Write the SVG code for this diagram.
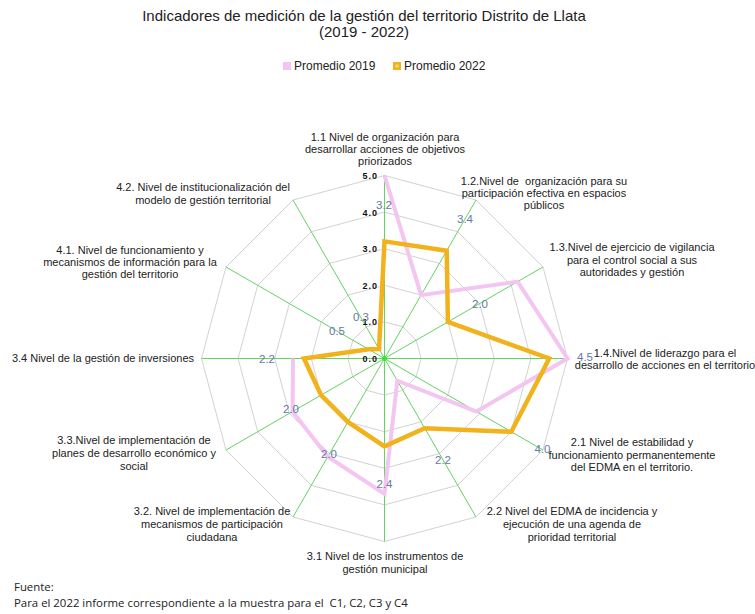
<svg xmlns="http://www.w3.org/2000/svg" width="755" height="614" viewBox="0 0 755 614">
<style>
text{font-family:"Liberation Sans",Arial,sans-serif;fill:#222}
.t{font-size:15px;text-anchor:middle}
.lg{font-size:12px}
.c{font-size:11px;text-anchor:middle;white-space:pre}
.tk{font-size:9px;font-weight:bold;text-anchor:end;letter-spacing:1px;fill:#111}
.v{font-size:11.5px;text-anchor:middle;fill:#6679a6}
.ring{fill:none;stroke:#d2d2d2;stroke-width:1}
.ax{stroke:#62d462;stroke-width:1}
.s19{fill:none;stroke:#f3c5f0;stroke-width:4;stroke-linejoin:miter}
.s22{fill:none;stroke:#f1b21b;stroke-width:4.5;stroke-linejoin:miter}
.ft{font-family:"Open Sans","Noto Sans",sans-serif;font-size:11.4px;white-space:pre}
</style>
<rect width="755" height="614" fill="#fff"/>
<g id="title">
<text class="t" x="364" y="20.5">Indicadores de medición de la gestión del territorio Distrito de Llata</text>
<text class="t" x="364" y="36.5">(2019 - 2022)</text>
</g>
<g id="legend">
<rect x="283" y="62" width="8" height="8" fill="#f3c5f0"/>
<text class="lg" x="294" y="70">Promedio 2019</text>
<rect x="393" y="62" width="8" height="8" fill="#f1b21b"/>
<rect x="395.5" y="64.5" width="3" height="3" fill="#f6d77a"/>
<text class="lg" x="404" y="70">Promedio 2022</text>
</g>
<g id="grid">
<polygon class="ring" points="384.5,321.9 402.8,326.8 416.2,340.2 421.1,358.5 416.2,376.8 402.8,390.2 384.5,395.1 366.2,390.2 352.8,376.8 347.9,358.5 352.8,340.2 366.2,326.8"/>
<polygon class="ring" points="384.5,285.3 421.1,295.11 447.89,321.9 457.7,358.5 447.89,395.1 421.1,421.89 384.5,431.7 347.9,421.89 321.11,395.1 311.3,358.5 321.11,321.9 347.9,295.11"/>
<polygon class="ring" points="384.5,248.7 439.4,263.41 479.59,303.6 494.3,358.5 479.59,413.4 439.4,453.59 384.5,468.3 329.6,453.59 289.41,413.4 274.7,358.5 289.41,303.6 329.6,263.41"/>
<polygon class="ring" points="384.5,212.1 457.7,231.72 511.28,285.3 530.9,358.5 511.28,431.7 457.7,485.28 384.5,504.9 311.3,485.28 257.72,431.7 238.1,358.5 257.72,285.3 311.3,231.72"/>
<polygon class="ring" points="384.5,175.5 476,200.02 542.98,267 567.5,358.5 542.98,450 476,516.98 384.5,541.5 293,516.98 226.02,450 201.5,358.5 226.02,267 293,200.02"/>
</g>
<g id="connectors">
<line class="ax" x1="384.5" y1="358.5" x2="384.5" y2="175.5"/>
<line class="ax" x1="384.5" y1="358.5" x2="476" y2="200.02"/>
<line class="ax" x1="384.5" y1="358.5" x2="542.98" y2="267"/>
<line class="ax" x1="384.5" y1="358.5" x2="567.5" y2="358.5"/>
<line class="ax" x1="384.5" y1="358.5" x2="542.98" y2="450"/>
<line class="ax" x1="384.5" y1="358.5" x2="476" y2="516.98"/>
<line class="ax" x1="384.5" y1="358.5" x2="384.5" y2="541.5"/>
<line class="ax" x1="384.5" y1="358.5" x2="293" y2="516.98"/>
<line class="ax" x1="384.5" y1="358.5" x2="226.02" y2="450"/>
<line class="ax" x1="384.5" y1="358.5" x2="201.5" y2="358.5"/>
<line class="ax" x1="384.5" y1="358.5" x2="226.02" y2="267"/>
<line class="ax" x1="384.5" y1="358.5" x2="293" y2="200.02"/>
<circle cx="384.5" cy="358.5" r="2.5" fill="#3ee03e"/>
</g>
<g id="ticks">
<text class="tk" x="378" y="179">5.0</text>
<text class="tk" x="378" y="215.5">4.0</text>
<text class="tk" x="378" y="252">3.0</text>
<text class="tk" x="378" y="288.5">2.0</text>
<text class="tk" x="378" y="325">1.0</text>
<text class="tk" x="378" y="361.5">0.0</text>
</g>
<g id="series-2019">
<polyline class="s19" points="384.5,175.5 421.1,295.11 517.62,281.64 567.5,358.5 476.42,411.57 397.31,380.69 384.5,493.92 327.77,456.76 292.58,411.57 293,358.5"/>
</g>
<g id="series-2022">
<polygon class="s22" points="384.5,241.38 446.72,250.73 447.89,321.9 549.2,358.5 511.28,431.7 424.76,428.23 384.5,446.34 347.9,421.89 321.11,395.1 303.98,358.5 368.65,349.35 379.01,348.99"/>
</g>
<g id="values">
<text class="v" x="384" y="209">3.2</text>
<text class="v" x="465" y="223">3.4</text>
<text class="v" x="480" y="308">2.0</text>
<text class="v" x="585" y="361">4.5</text>
<text class="v" x="542.5" y="453">4.0</text>
<text class="v" x="443" y="464">2.2</text>
<text class="v" x="384.5" y="488">2.4</text>
<text class="v" x="329" y="458">2.0</text>
<text class="v" x="291" y="413">2.0</text>
<text class="v" x="267" y="363">2.2</text>
<text class="v" x="337" y="335">0.5</text>
<text class="v" x="361" y="321">0.3</text>
</g>
<g id="n1-1"><text class="c" x="385" y="141">1.1 Nivel de organización para</text><text class="c" x="385" y="153">desarrollar acciones de objetivos</text><text class="c" x="385" y="165">priorizados</text></g>
<g id="n1-2"><text class="c" x="544" y="185">1.2.Nivel de  organización para su</text><text class="c" x="544" y="197">participación efectiva en espacios</text><text class="c" x="544" y="209">públicos</text></g>
<g id="n1-3"><text class="c" x="632" y="251">1.3.Nivel de ejercicio de vigilancia</text><text class="c" x="632" y="264">para el control social a sus</text><text class="c" x="632" y="276">autoridades y gestión</text></g>
<g id="n1-4"><text class="c" x="665" y="357">1.4.Nivel de liderazgo para el</text><text class="c" x="665" y="368.5">desarrollo de acciones en el territorio</text></g>
<g id="n2-1"><text class="c" x="632" y="446">2.1 Nivel de estabilidad y</text><text class="c" x="632" y="459">funcionamiento permanentemente</text><text class="c" x="632" y="471">del EDMA en el territorio.</text></g>
<g id="n2-2"><text class="c" x="572" y="515">2.2 Nivel del EDMA de incidencia y</text><text class="c" x="572" y="528">ejecución de una agenda de</text><text class="c" x="572" y="541">prioridad territorial</text></g>
<g id="n3-1"><text class="c" x="385" y="560">3.1 Nivel de los instrumentos de</text><text class="c" x="385" y="573">gestión municipal</text></g>
<g id="n3-2"><text class="c" x="212" y="515">3.2. Nivel de implementación de</text><text class="c" x="212" y="528">mecanismos de participación</text><text class="c" x="212" y="541">ciudadana</text></g>
<g id="n3-3"><text class="c" x="134" y="444">3.3.Nivel de implementación de</text><text class="c" x="134" y="457">planes de desarrollo económico y</text><text class="c" x="134" y="470">social</text></g>
<g id="n3-4"><text class="c" x="103" y="362">3.4 Nivel de la gestión de inversiones</text></g>
<g id="n4-1"><text class="c" x="130" y="254">4.1. Nivel de funcionamiento y</text><text class="c" x="130" y="266">mecanismos de información para la</text><text class="c" x="130" y="278">gestión del territorio</text></g>
<g id="n4-2"><text class="c" x="203" y="191">4.2. Nivel de institucionalización del</text><text class="c" x="203" y="204">modelo de gestión territorial</text></g>
<g id="footer">
<text class="ft" x="14" y="591">Fuente:</text>
<text class="ft" x="14" y="607">Para el 2022 informe correspondiente a la muestra para el  C1, C2, C3 y C4</text>
</g>
</svg>
